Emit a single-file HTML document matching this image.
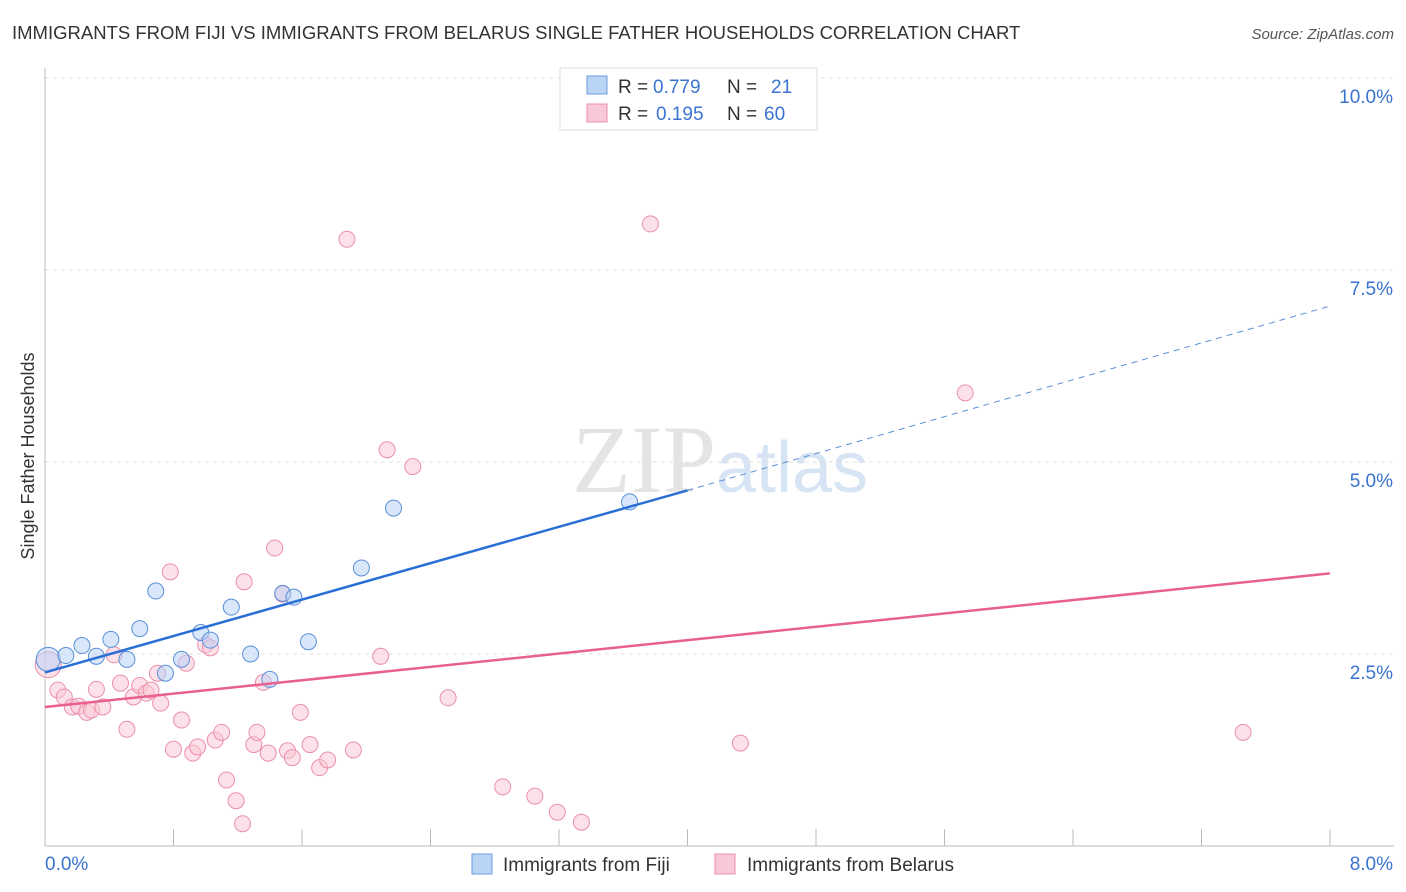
<!DOCTYPE html>
<html><head><meta charset="utf-8"><style>
body{margin:0;background:#fff;font-family:"Liberation Sans",sans-serif;}
#wrap{position:relative;width:1406px;height:892px;overflow:hidden}
</style></head><body>
<div id="wrap">
<svg id="svg" width="1406" height="892" xmlns="http://www.w3.org/2000/svg">
<text x="12" y="39" font-size="18.5" fill="#333">IMMIGRANTS FROM FIJI VS IMMIGRANTS FROM BELARUS SINGLE FATHER HOUSEHOLDS CORRELATION CHART</text>
<text x="1394" y="39" font-size="15" fill="#555" font-style="italic" text-anchor="end">Source: ZipAtlas.com</text>
<text x="716" y="492" font-size="96" fill="#e4e4e4" text-anchor="end" font-family="Liberation Serif">ZIP</text>
<text x="716" y="492" font-size="72" fill="#d6e4f4">atlas</text>
<text x="34" y="456" font-size="18" fill="#333" text-anchor="middle" transform="rotate(-90 34 456)">Single Father Households</text>
<g id="grid"></g><g id="marks"></g>
<g>
<rect x="560" y="68" width="257" height="62" fill="#fff" stroke="#ddd"/>
<rect x="587" y="76" width="20" height="18" fill="#b9d4f5" stroke="#6a9ee0"/>
<rect x="587" y="104" width="20" height="18" fill="#f9c8d6" stroke="#ea8fac"/>
<text x="618" y="93" font-size="19" fill="#333">R =</text>
<text x="653" y="93" font-size="19" fill="#3a73d0">0.779</text>
<text x="727" y="93" font-size="19" fill="#333">N =</text>
<text x="771" y="93" font-size="19" fill="#3a73d0">21</text>
<text x="618" y="120" font-size="19" fill="#333">R =</text>
<text x="656" y="120" font-size="19" fill="#3a73d0">0.195</text>
<text x="727" y="120" font-size="19" fill="#333">N =</text>
<text x="764" y="120" font-size="19" fill="#3a73d0">60</text>
</g>
<g>
<rect x="472" y="854" width="20" height="20" fill="#b9d4f5" stroke="#6a9ee0"/>
<text x="503" y="871" font-size="19" fill="#333">Immigrants from Fiji</text>
<rect x="715" y="854" width="20" height="20" fill="#f9c8d6" stroke="#ea8fac"/>
<text x="747" y="871" font-size="19" fill="#333">Immigrants from Belarus</text>
</g>
</svg></div>
<script>
const yTicks=[2.5,5.0,7.5,10.0];
const yTickLabels=["2.5%","5.0%","7.5%","10.0%"];
const xTickLabels=["0.0%","8.0%"];
const fijiX=[0.02,0.13,0.23,0.32,0.41,0.51,0.59,0.69,0.75,0.85,0.97,1.03,1.16,1.28,1.40,1.48,1.55,1.64,1.97,2.17,3.64];
const fijiY=[2.43,2.48,2.61,2.47,2.69,2.43,2.83,3.32,2.25,2.43,2.78,2.68,3.11,2.50,2.17,3.29,3.24,2.66,3.62,4.40,4.48];
const belX=[0.02,0.08,0.12,0.17,0.21,0.26,0.29,0.32,0.36,0.43,0.47,0.51,0.55,0.59,0.63,0.66,0.70,0.72,0.78,0.80,0.85,0.88,0.92,0.95,1.00,1.03,1.06,1.10,1.13,1.19,1.23,1.24,1.30,1.32,1.36,1.39,1.43,1.48,1.51,1.54,1.59,1.65,1.71,1.76,1.88,1.92,2.09,2.13,2.29,2.51,2.85,3.05,3.19,3.34,3.77,4.33,5.73,7.46];
const belY=[2.36,2.03,1.94,1.81,1.82,1.74,1.77,2.04,1.81,2.49,2.12,1.52,1.94,2.09,1.99,2.03,2.25,1.86,3.57,1.26,1.64,2.38,1.21,1.29,2.62,2.58,1.38,1.48,0.86,0.59,0.29,3.44,1.32,1.48,2.13,1.21,3.88,3.28,1.24,1.15,1.74,1.32,1.02,1.12,7.90,1.25,2.47,5.16,4.94,1.93,0.77,0.65,0.44,0.31,8.10,1.34,5.90,1.48];
const fijiLine=[[0,2.26],[4.0,4.63]],fijiDash=[[4.0,4.63],[8.0,7.03]];
const belLine=[[0,1.81],[8.0,3.55]];
const X=v=>45+v*160.6, Y=v=>846-v*76.8;
const NS="http://www.w3.org/2000/svg";
function mk(t,a,p){const e=document.createElementNS(NS,t);for(const k in a)e.setAttribute(k,a[k]);p.appendChild(e);return e;}
const g=document.getElementById('grid'),m=document.getElementById('marks');
yTicks.forEach((v,i)=>{const l=mk('line',{x1:45,x2:1394,y1:Y(v),y2:Y(v),stroke:'#e0e0e0','stroke-dasharray':'4,4'},g);


const t=mk('text',{x:1393,y:Y(v)+25,'font-size':19,fill:'#3a73d0','text-anchor':'end'},g);t.textContent=yTickLabels[i];

});
const topGrid=mk('line',{x1:45,x2:1394,y1:78,y2:78,stroke:'#e0e0e0','stroke-dasharray':'4,4'},g);
mk('line',{x1:45,x2:45,y1:68,y2:846,stroke:'#bbb'},g);
mk('line',{x1:45,x2:1394,y1:846,y2:846,stroke:'#bbb'},g);
for(let i=1;i<=10;i++){const x=45+i*128.5;mk('line',{x1:x,x2:x,y1:829,y2:846,stroke:'#bbb'},g);}
const xl=mk('text',{x:45,y:870,'font-size':19,fill:'#3a73d0'},g);xl.textContent=xTickLabels[0];


const xr=mk('text',{x:1393,y:870,'font-size':19,fill:'#3a73d0','text-anchor':'end'},g);xr.textContent=xTickLabels[1];


belX.forEach((x,i)=>{const c=mk('circle',{cx:X(x),cy:Y(belY[i]),r:i==0?13:8,fill:'rgba(249,200,214,0.55)',stroke:'#ea8fac','stroke-width':1},m);

});
fijiX.forEach((x,i)=>{const c=mk('circle',{cx:X(x),cy:Y(fijiY[i]),r:i==0?12:8,fill:'rgba(185,212,245,0.55)',stroke:'#5a8fd8','stroke-width':1},m);

});
const l1=mk('line',{x1:X(fijiLine[0][0]),y1:Y(fijiLine[0][1]),x2:X(fijiLine[1][0]),y2:Y(fijiLine[1][1]),stroke:'#2a6fd6','stroke-width':2.5},m);


const l2=mk('line',{x1:X(fijiDash[0][0]),y1:Y(fijiDash[0][1]),x2:X(fijiDash[1][0]),y2:Y(fijiDash[1][1]),stroke:'#5a8fd8','stroke-width':1,'stroke-dasharray':'6,5'},m);


const l3=mk('line',{x1:X(belLine[0][0]),y1:Y(belLine[0][1]),x2:X(belLine[1][0]),y2:Y(belLine[1][1]),stroke:'#e8608e','stroke-width':2.5},m);


</script>
</body></html>
